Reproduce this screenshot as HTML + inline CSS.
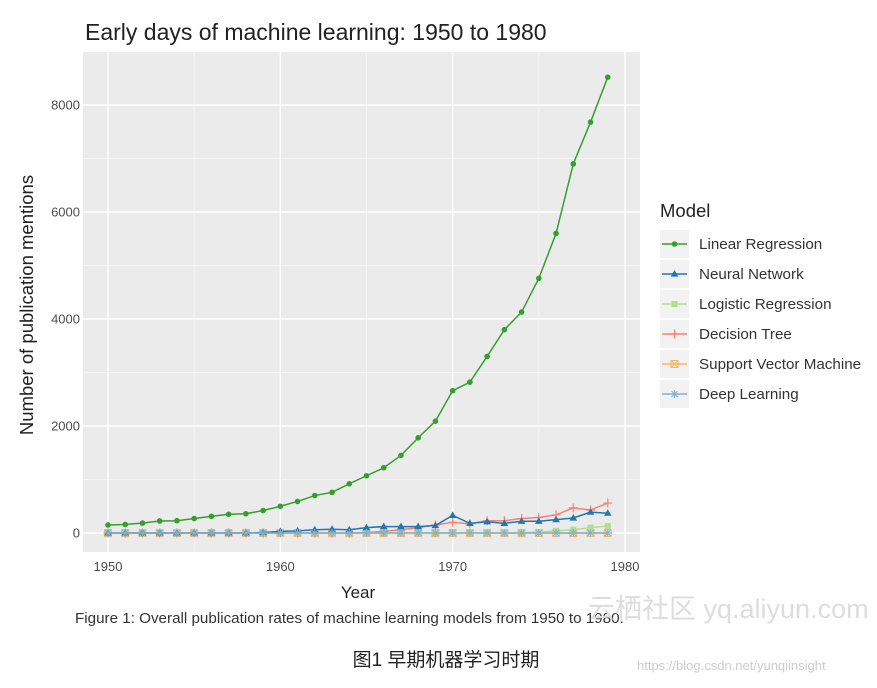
<!DOCTYPE html>
<html><head><meta charset="utf-8"><style>
body{margin:0;background:#fff;width:877px;height:683px;overflow:hidden;font-family:"Liberation Sans","Noto Sans CJK SC",sans-serif}
</style></head><body>
<svg id="c" width="877" height="683" xmlns="http://www.w3.org/2000/svg" font-family="Liberation Sans, Noto Sans CJK SC, sans-serif">
<text x="85" y="40" font-size="23" fill="#222">Early days of machine learning: 1950 to 1980</text>
<rect x="83" y="52" width="557" height="500" fill="#ebebeb"/>
<g id="grid"></g>
<g id="series"></g>
<g id="axes"></g>
<text x="358" y="598" font-size="17" fill="#222" text-anchor="middle">Year</text>
<text transform="translate(33,305) rotate(-90)" font-size="18.5" fill="#222" text-anchor="middle">Number of publication mentions</text>
<text x="660" y="217" font-size="18.5" fill="#222">Model</text>
<g id="legend"></g>
<text x="75" y="623" font-size="15.2" fill="#333">Figure 1: Overall publication rates of machine learning models from 1950 to 1980.</text>
<text x="588" y="618" font-size="27" fill="#ddd">云栖社区 yq.aliyun.com</text>
<text x="446" y="666" font-size="19" fill="#222" text-anchor="middle">图1 早期机器学习时期</text>
<text x="637" y="670" font-size="13" fill="#ccc">https://blog.csdn.net/yunqiinsight</text>
</svg>
<script>
const years=[1950,1951,1952,1953,1954,1955,1956,1957,1958,1959,1960,1961,1962,1963,1964,1965,1966,1967,1968,1969,1970,1971,1972,1973,1974,1975,1976,1977,1978,1979];
const linearRegression=[150,160,185,225,230,270,310,350,360,420,500,590,700,760,920,1070,1220,1450,1780,2090,2660,2820,3300,3800,4130,4760,5600,6900,7680,8520];
const neuralNetwork=[0,0,0,0,0,0,0,0,0,10,30,40,60,70,60,100,120,120,120,140,330,180,210,180,220,220,250,280,390,370];
const logisticRegression=[0,0,0,0,0,0,0,0,0,0,0,0,0,0,0,0,0,0,0,0,0,0,0,0,0,20,40,60,100,130];
const decisionTree=[0,0,0,0,0,0,0,0,0,0,0,0,0,0,0,10,30,60,100,150,200,170,230,230,270,290,340,470,430,560];
const supportVectorMachine=[0,0,0,0,0,0,0,0,0,0,0,0,0,0,0,0,0,0,0,0,0,0,0,0,0,0,0,0,0,0];
const deepLearning=[0,0,0,0,0,0,0,0,0,0,0,0,0,0,0,0,0,0,0,0,0,0,0,0,0,0,0,0,0,0];
const yTicks=[0,2000,4000,6000,8000];
const xTicks=[1950,1960,1970,1980];
const NS="http://www.w3.org/2000/svg";
const X=v=>108+(v-1950)*(625-108)/30;
const Y=v=>533-v*(533-105)/8000;
function mk(t,a,p){const e=document.createElementNS(NS,t);for(const k in a)e.setAttribute(k,a[k]);p.appendChild(e);return e;}
const grid=document.getElementById('grid'),axes=document.getElementById('axes');
for(let i=0;i<yTicks.length;i++){
 const y=Y(yTicks[i]);
 const g=mk('line',{x1:83,x2:640,y1:y,y2:y,stroke:'#fff','stroke-width':1.4},grid);
 
 
 if(i<yTicks.length-1){const ym=Y((yTicks[i]+yTicks[i+1])/2);
  const m=mk('line',{x1:83,x2:640,y1:ym,y2:ym,stroke:'#f7f7f7','stroke-width':0.7},grid);
  
  }
 const t=mk('text',{x:80,y:y+4.5,'font-size':13,fill:'#4d4d4d','text-anchor':'end'},axes);t.textContent=yTicks[i];
 
 
}
for(let i=0;i<xTicks.length;i++){
 const x=X(xTicks[i]);
 const g=mk('line',{x1:x,x2:x,y1:52,y2:552,stroke:'#fff','stroke-width':1.4},grid);
 
 
 if(i<xTicks.length-1){const xm=X(xTicks[i]+5);
  const m=mk('line',{x1:xm,x2:xm,y1:52,y2:552,stroke:'#f7f7f7','stroke-width':0.7},grid);
  
  }
 const t=mk('text',{x:x,y:571,'font-size':13,fill:'#4d4d4d','text-anchor':'middle'},axes);t.textContent=xTicks[i];
 
 
}
function marker(shape,x,y,col,p){
 let e;
 if(shape==='circle')e=mk('circle',{cx:x,cy:y,r:2.8,fill:col},p);
 else if(shape==='tri')e=mk('polygon',{points:`${x},${y-4} ${x-3.8},${y+2.6} ${x+3.8},${y+2.6}`,fill:col},p);
 else if(shape==='square')e=mk('rect',{x:x-3,y:y-3,width:6,height:6,fill:col},p);
 else if(shape==='plus')e=mk('path',{d:`M${x-4.5} ${y}H${x+4.5}M${x} ${y-4.5}V${y+4.5}`,stroke:col,'stroke-width':1.2},p);
 else if(shape==='sqx')e=mk('path',{d:`M${x-3.5} ${y-3.5}h7v7h-7zM${x-3.5} ${y-3.5}l7 7M${x+3.5} ${y-3.5}l-7 7`,stroke:col,fill:'none','stroke-width':1},p);
 else e=mk('path',{d:`M${x-4} ${y}H${x+4}M${x} ${y-4}V${y+4}M${x-3} ${y-3}L${x+3} ${y+3}M${x+3} ${y-3}L${x-3} ${y+3}`,stroke:col,'stroke-width':1},p);
 
 
}
const series=[
 ['Linear Regression',linearRegression,'#33a02c','circle'],
 ['Neural Network',neuralNetwork,'#1f78b4','tri'],
 ['Logistic Regression',logisticRegression,'#b2df8a','square'],
 ['Decision Tree',decisionTree,'#fb8072','plus'],
 ['Support Vector Machine',supportVectorMachine,'#fdb462','sqx'],
 ['Deep Learning',deepLearning,'#80b1d3','star']];
const sg=document.getElementById('series'),lg=document.getElementById('legend');
const drawOrder=[4,2,3,1,5,0];
drawOrder.forEach(si=>{
 const [name,vals,col,sh]=series[si];
 const g=mk('g',{},sg);
 
 
 const pl=mk('polyline',{points:vals.map((v,i)=>X(years[i])+','+Y(v)).join(' '),fill:'none',stroke:col,'stroke-width':1.5},g);
 
 
 vals.forEach((v,i)=>marker(sh,X(years[i]),Y(v),col,g));
});
series.forEach((s,i)=>{
 const [name,,col,sh]=s;const y=244+i*30;
 const g=mk('g',{},lg);
 
 
 mk('rect',{x:660,y:y-14,width:29,height:28,fill:'#f2f2f2'},g);
 mk('line',{x1:662,x2:687,y1:y,y2:y,stroke:col,'stroke-width':1.5},g);
 marker(sh,674.5,y,col,g);
 const t=mk('text',{x:699,y:y+5,'font-size':15.2,fill:'#333'},g);t.textContent=name;
});
</script>
</body></html>
